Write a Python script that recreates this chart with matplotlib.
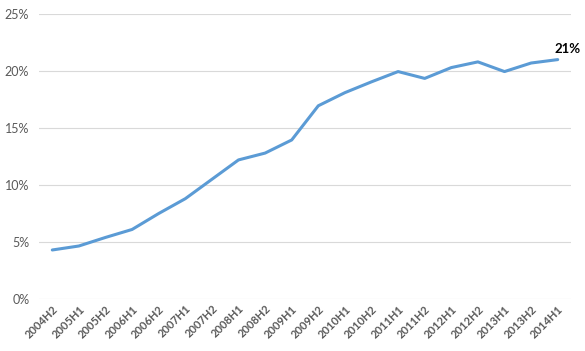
import numpy as np
import matplotlib.pyplot as plt
from matplotlib.ticker import PercentFormatter

periods = ["2004H2", "2005H1", "2005H2", "2006H1", "2006H2", "2007H1", "2007H2",
           "2008H1", "2008H2", "2009H1", "2009H2", "2010H1", "2010H2", "2011H1",
           "2011H2", "2012H1", "2012H2", "2013H1", "2013H2", "2014H1"]
share = [4.3, 4.65, 5.4, 6.1, 7.5, 8.8, 10.5, 12.2, 12.8, 13.95, 16.95, 18.1,
         19.05, 19.95, 19.35, 20.3, 20.8, 19.95, 20.7, 21.0]

plt.rcParams['font.family'] = ['Lato', 'DejaVu Sans']
grey = "#595959"

fig = plt.figure(figsize=(5.85, 3.51), dpi=100)
ax = fig.add_axes([39/585, 1 - 299/351, 532/585, 285/351])

x = np.arange(len(periods))
ax.plot(x, share, color="#5B9BD5", lw=2.2, solid_capstyle="round")
ax.annotate("21%", (x[-1], share[-1]), xytext=(7, 3), textcoords="offset points",
            ha="center", va="bottom", fontsize=9.5, fontweight="bold", color="black")

ax.set_xlim(-0.5, len(periods) - 0.5)
ax.set_ylim(0, 25)
ax.set_yticks(range(0, 26, 5))
ax.yaxis.set_major_formatter(PercentFormatter(decimals=0))
ax.grid(axis="y", color="#D9D9D9", lw=0.8)
ax.set_axisbelow(True)
for s in ax.spines.values():
    s.set_visible(False)
ax.tick_params(length=0, colors=grey)
ax.tick_params(axis="y", labelsize=9, pad=7)
ax.set_xticks(x)
ax.set_xticklabels(periods, rotation=45, ha="right", rotation_mode="anchor",
                   fontsize=8, fontweight="bold")
ax.tick_params(axis="x", pad=3)

fig.savefig("out.png")
